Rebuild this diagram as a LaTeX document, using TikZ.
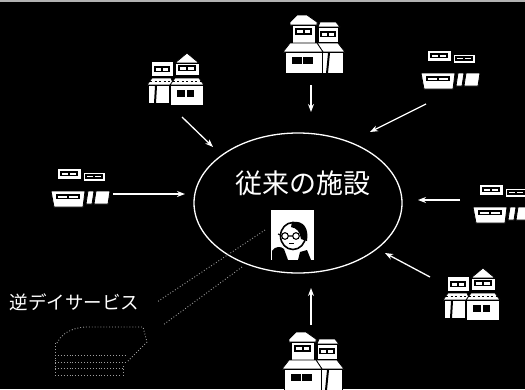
\documentclass[tikz,border=0pt]{standalone}
\usepackage{fontspec}
\newfontfamily\jpfont{Noto Sans CJK JP}
\usetikzlibrary{arrows.meta,shapes.geometric}

\tikzset{
  wfill/.style={fill=white,draw=black,line width=0.8pt},
  feed/.style={draw=white,line width=1.3pt,-{Stealth[length=8pt,width=6pt]}},
  trail/.style={draw=gray!75,line width=0.9pt,dotted},
  % two-storey house with a neighbour behind it
  twohouse/.pic={
    \path[wfill] (37,7)--(53,7)--(57,12)--(35,12)--cycle;
    \path[wfill] (35,12) rectangle (55,27);
    \fill[black] (37,16) rectangle (53,22);
    \fill[white] (39,17.5) rectangle (44,20.5);
    \fill[white] (46,17.5) rectangle (51,20.5);
    \path[wfill] (34,28)--(55,28)--(62,37)--(40,37)--cycle;
    \path[wfill] (39,37) rectangle (60,58);
    \fill[black] (45,38)--(47,38)--(45,58)--(43,58)--cycle;
    \path[wfill] (14,0)--(24,0)--(34,7)--(34,10)--(7,10)--(7,7)--cycle;
    \path[wfill] (9,10) rectangle (32,28);
    \fill[black] (12,13) rectangle (29,20);
    \fill[white] (14,15) rectangle (19.5,18);
    \fill[white] (21.5,15) rectangle (27,18);
    \path[wfill] (7,28)--(34,28)--(40,37)--(0,37)--cycle;
    \path[wfill] (2,37) rectangle (39,58);
    \fill[black] (9,42) rectangle (30,49);
    \fill[white] (18.8,42) rectangle (20.3,49);
  },
  % low flat-roofed blocks
  flatblock/.pic={
    \path[wfill] (0,0) rectangle (24,11);
    \fill[black] (3,3) rectangle (21,8);
    \fill[white] (5,4.5) rectangle (11,6.5);
    \fill[white] (13,4.5) rectangle (19,6.5);
    \path[wfill] (26,4) rectangle (48,13);
    \fill[black] (28,6) rectangle (46,10.5);
    \fill[white] (30,7.5) rectangle (36,9);
    \fill[white] (38,7.5) rectangle (44,9);
    \path[wfill] (-6,23)--(28,23)--(26,39)--(-3,39)--cycle;
    \fill[black] (-1,26) rectangle (23,31);
    \fill[white] (1,27.5) rectangle (10,29.5);
    \fill[white] (12,27.5) rectangle (21,29.5);
    \path[wfill] (31,23)--(37,23)--(35,36)--(29,36)--cycle;
    \path[wfill] (39,23)--(53,23)--(51,36)--(37,36)--cycle;
  },
  % cluster of small houses
  cluster/.pic={
    \path[wfill] (28,10)--(40,0)--(52,10)--cycle;
    \path[wfill] (28,10) rectangle (52,22);
    \fill[black] (31,12) rectangle (49,18);
    \fill[white] (33,13.5) rectangle (39,16.5);
    \fill[white] (41,13.5) rectangle (47,16.5);
    \path[wfill] (4,8) rectangle (26,23);
    \fill[black] (7,13) rectangle (23,19);
    \fill[white] (9,14.5) rectangle (14,17.5);
    \fill[white] (16,14.5) rectangle (21,17.5);
    \path[wfill] (0,32)--(5,25)--(24,25)--(27,32)--cycle;
    \path[wfill] (23,32)--(28,25)--(52,25)--(57,32)--cycle;
    \draw[black,line width=0.7pt,dash pattern=on 2pt off 2.5pt] (3,28.5)--(54,28.5);
    \path[wfill] (1,32) rectangle (22,50);
    \fill[black] (8,33)--(10,33)--(9,50)--(7,50)--cycle;
    \path[wfill] (23,32) rectangle (56,52);
    \fill[black] (30,37) rectangle (47,44);
    \fill[white] (38,37) rectangle (39.5,44);
  }
}

\begin{document}
\begin{tikzpicture}[x=1pt,y=-1pt]
  \useasboundingbox (0,0) rectangle (525,389);
  \fill[black] (0,0) rectangle (525,389);
  \fill[gray!60] (0,0) rectangle (525,1.5);

  \begin{scope}
    \clip (0,0) rectangle (525,389);

    % facility
    \node[ellipse,draw=white,line width=1.3pt,minimum width=208pt,
          minimum height=140pt,inner sep=0pt] (fac) at (298,203) {};
    \node[text=white,font=\jpfont\fontsize{27}{30}\selectfont] (title) at (303,183) {従来の施設};

    % portrait
    \node[fill=white,minimum width=43pt,minimum height=50pt,inner sep=0pt] (photo) at (292.5,235) {};
    \draw[black,line width=1.6pt] (293,236) ellipse (12.5 and 13.5);
    \fill[black] (292,222) .. controls (304,220) and (309,229) .. (307,241)
      -- (301,239) .. controls (300,232) and (297,228) .. (291,227) -- cycle;
    \draw[black,line width=1.1pt] (285,236) circle (3.3) (296,236) circle (3.3);
    \draw[black,line width=1.1pt] (288.3,236)--(292.7,236) (281.7,235.5)--(278,234);
    \draw[black,line width=1pt] (289,243) -- (294,243);
    \fill[black] (272,260) -- (272,251) .. controls (275,246) and (281,246) .. (284,249)
      -- (288,260) -- cycle;
    \fill[black] (298,260) -- (300,252) -- (307,250) -- (311,260) -- cycle;

    % homes around the facility
    \pic (htop) at (283,15) {twohouse};
    \pic (hbot) at (282,332) {twohouse};
    \pic (htr) at (427,50) {flatblock};
    \pic (hl) at (57,168) {flatblock};
    \pic (hr) at (479,184) {flatblock};
    \pic (htl) at (147,53) {cluster};
    \pic (hbr) at (443,268) {cluster};

    % arrows toward the facility
    \coordinate (s1) at (311,85);  \coordinate (t1) at (311,112);
    \coordinate (s2) at (182,117); \coordinate (t2) at (213,147);
    \coordinate (s3) at (426,104); \coordinate (t3) at (370,132);
    \coordinate (s4) at (113,194); \coordinate (t4) at (185,194);
    \coordinate (s5) at (460,200); \coordinate (t5) at (418,200);
    \coordinate (s6) at (430,277); \coordinate (t6) at (385,253);
    \coordinate (s7) at (311,325); \coordinate (t7) at (311,288);
    \foreach \i in {1,...,7} \draw[feed] (s\i) -- (t\i);

    % reverse day service
    \node[text=white,font=\jpfont\fontsize{18.5}{20}\selectfont] (rds) at (74.5,302) {逆デイサービス};
    \coordinate (dA1) at (265,230); \coordinate (dA2) at (157,302);
    \coordinate (dB1) at (242,267); \coordinate (dB2) at (163,325);
    \draw[trail] (dA1) -- (dA2);
    \draw[trail] (dB1) -- (dB2);

    % van outline
    \draw[trail] (57,343) .. controls (62,333) and (72,328) .. (85,327) -- (143,327) -- (147,342) -- (127,362);
    \draw[trail] (55,343) -- (55,375);
    \draw[trail] (55,355) -- (127,355);
    \draw[trail] (55,362) -- (125,362);
    \draw[trail] (55,368) -- (122,368);
    \draw[trail] (55,375) -- (120,375);
    \draw[trail] (123,366) -- (123,376);
  \end{scope}
\end{tikzpicture}
\end{document}
